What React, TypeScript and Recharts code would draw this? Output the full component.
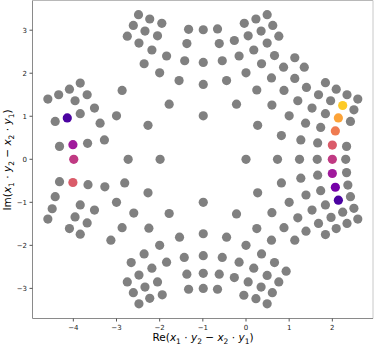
import { ScatterChart, Scatter, XAxis, YAxis, ReferenceLine, Cell } from "recharts";

// gray points, grouped by region (x, y)
const leftCluster = [
  [-3.84, 1.77], [-4.09, 1.63], [-4.34, 1.5], [-3.68, 1.5], [-4.59, 1.4], [-3.96, 1.36], [-3.51, 1.19],
  [-3.84, 1.06], [-4.42, 0.88], [-3.38, 0.84], [-3.28, 0.45], [-3.67, 0.37], [-4.32, 0.3],
  [-4.32, -0.52], [-3.66, -0.59], [-3.27, -0.64], [-4.42, -0.87], [-4.49, -1.15], [-3.84, -1.06],
  [-4.59, -1.39], [-3.96, -1.34], [-3.51, -1.18], [-3.68, -1.48], [-4.09, -1.61], [-3.84, -1.74],
];
const innerLeft = [
  [-2.87, 1.6], [-3.0, 1.01], [-2.27, 0.79], [-1.78, 1.28], [-1.55, 1.83], [-2.73, 0], [-1.99, 0],
  [-2.81, -0.55], [-2.27, -0.78], [-3.0, -1.0], [-2.6, -1.25], [-1.78, -1.26], [-2.87, -1.59],
  [-2.25, -1.6], [-3.13, -1.88], [-1.54, -1.81],
];
const upperLeft = [
  [-2.49, 3.36], [-2.23, 3.26], [-1.95, 3.16], [-2.61, 3.11], [-2.34, 2.98], [-2.75, 2.86], [-2.05, 2.87],
  [-1.33, 3.02], [-2.48, 2.7], [-1.37, 2.69], [-2.18, 2.54], [-1.84, 2.4], [-2.36, 2.22], [-1.42, 2.29],
  [-2.0, 2.01],
];
const lowerLeft = [
  [-2.0, -2.0], [-2.36, -2.2], [-2.66, -2.4], [-1.84, -2.39], [-1.43, -2.28], [-2.18, -2.53], [-2.48, -2.69],
  [-1.37, -2.67], [-2.75, -2.85], [-2.05, -2.85], [-2.34, -2.97], [-1.33, -3.02], [-2.61, -3.1],
  [-1.94, -3.15], [-2.23, -3.23], [-2.48, -3.36],
];
const upperMiddle = [
  [-0.99, 3.01], [-0.66, 3.03], [-0.62, 2.69], [-0.27, 2.76], [-0.99, 2.25], [-0.55, 2.29], [-0.16, 2.4],
  [-0.45, 1.83], [-0.99, 1.74], [-0.22, 1.28], [-0.99, 1.01], [0.27, 0.79], [0, 2.01], [0.25, 1.61],
  [0.6, 1.26], [-0.04, 3.16], [0.23, 3.26], [0.49, 3.36], [0.62, 3.11], [0.35, 2.98], [0.05, 2.87],
  [0.76, 2.86], [0.49, 2.7], [0.18, 2.54], [0.66, 2.41], [0.36, 2.22], [1.13, 2.36], [0.87, 2.14],
  [1.35, 2.14], [0.59, 1.89], [1.13, 1.88], [0.88, 1.6], [1.4, 1.67],
];
const lowerMiddle = [
  [-0.99, -1.0], [-0.22, -1.27], [0.6, -1.24], [0.27, -0.78], [0.25, -1.61], [0.88, -1.59], [1.39, -1.67],
  [-0.99, -1.73], [-0.45, -1.81], [1.13, -1.88], [0.59, -1.88], [0, -2.0], [0.36, -2.2], [-0.99, -2.24],
  [-0.55, -2.28], [-0.16, -2.39], [0.66, -2.4], [0.93, -2.6], [0.49, -2.7], [0.18, -2.53], [-0.27, -2.75],
  [0.05, -2.85], [0.76, -2.85], [0.35, -2.97], [0.61, -3.1], [-0.05, -3.16], [0.23, -3.24], [0.49, -3.36],
  [-0.99, -2.65], [-0.62, -2.67], [-0.99, -3.0], [-0.66, -3.02],
];
const rightCluster = [
  [1.84, 1.78], [2.09, 1.63], [2.34, 1.5], [2.59, 1.4], [1.68, 1.5], [1.96, 1.36], [1.2, 1.36], [2.5, 1.15],
  [1.53, 1.19], [1.84, 1.06], [2.42, 0.88], [1.0, 1.01], [1.38, 0.84], [1.73, 0.74], [0.82, 0.55],
  [1.27, 0.45], [1.66, 0.38], [2.33, 0.3],
  [0, 0], [0.73, 0], [1.24, 0], [1.65, 0], [2.31, 0],
  [2.33, -0.31], [1.66, -0.37], [1.27, -0.44], [0.82, -0.55], [2.36, -0.6], [1.73, -0.73], [1.39, -0.83],
  [2.42, -0.87], [1.0, -1.0], [1.84, -1.06], [2.5, -1.14], [1.53, -1.18], [2.24, -1.23], [1.2, -1.36],
  [1.97, -1.35], [2.59, -1.39], [1.68, -1.49], [2.34, -1.49], [2.09, -1.61], [1.84, -1.75],
];

// highlighted points and their colour level (0 = darkest, 7 = yellow)
const highlightX = [-4.14, -4.01, -3.99, -4.01, 2.24, 2.14, 2.07, 2.0, 2.0, 2.0, 2.07, 2.14];
const highlightY = [0.96, 0.34, 0.0, -0.54, 1.25, 0.96, 0.66, 0.33, 0.0, -0.33, -0.65, -0.95];
const highlightLevel = [0, 2, 3, 4, 7, 6, 5, 4, 3, 2, 1, 0];

const xTicks = [-4, -3, -2, -1, 0, 1, 2];
const yTicks = [-3, -2, -1, 0, 1, 2, 3];

const plasma = ["#4b03a1", "#7501a8", "#a01a9c", "#c03a83", "#da5b69", "#ef7b51", "#fca338", "#fdca26"];

const grayData = [
  ...leftCluster, ...innerLeft, ...upperLeft, ...lowerLeft,
  ...upperMiddle, ...lowerMiddle, ...rightCluster,
].map(([x, y]) => ({ x, y }));

const highlightData = highlightX.map((x, i) => ({ x, y: highlightY[i], level: highlightLevel[i] }));

const XMIN = -4.946, XMAX = 2.942, YMIN = -3.70, YMAX = 3.69;

const dot = (props) => <circle cx={props.cx} cy={props.cy} r={4.6} fill={props.fill} />;
const fmt = (v) => String(v).replace("-", "\u2212");

// Re(x1·y2 − x2·y1) with italic variables and subscripts
const mathText = (prefix) => [
  <tspan key="p">{prefix}(</tspan>,
  <tspan key="x1" fontStyle="italic">x</tspan>, <tspan key="s1" fontSize={7.5} dy={2.6}>1</tspan>,
  <tspan key="d1" dy={-2.6}> · </tspan>,
  <tspan key="y2" fontStyle="italic">y</tspan>, <tspan key="s2" fontSize={7.5} dy={2.6}>2</tspan>,
  <tspan key="m" dy={-2.6}> − </tspan>,
  <tspan key="x2" fontStyle="italic">x</tspan>, <tspan key="s3" fontSize={7.5} dy={2.6}>2</tspan>,
  <tspan key="d2" dy={-2.6}> · </tspan>,
  <tspan key="y1" fontStyle="italic">y</tspan>, <tspan key="s4" fontSize={7.5} dy={2.6}>1</tspan>,
  <tspan key="c" dy={-2.6}>)</tspan>,
];

const XLabel = () => (
  <text x={203} y={341} textAnchor="middle" fontFamily="DejaVu Sans" fontSize={10.5} fill="#000">
    {mathText("Re")}
  </text>
);

const YLabel = () => (
  <text x={11} y={160} transform="rotate(-90 11 160)" textAnchor="middle" fontFamily="DejaVu Sans" fontSize={10.5} fill="#000">
    {mathText("Im")}
  </text>
);

const tickStyle = { fontSize: 7, fontFamily: "DejaVu Sans", fill: "#222" };

export default function App() {
  return (
    <div style={{ position: "absolute", left: 0, top: 0, background: "#fff" }}>
      <ScatterChart width={374} height={347} margin={{ top: 0.5, right: 1, left: 0, bottom: 0 }}>
        <XAxis
          type="number"
          dataKey="x"
          domain={[XMIN, XMAX]}
          ticks={xTicks}
          allowDataOverflow
          height={28.5}
          tickSize={3}
          tickMargin={4}
          tickFormatter={fmt}
          tick={tickStyle}
          stroke="#8a8a8a"
          tickLine={{ stroke: "#555" }}
          label={{ content: () => <XLabel /> }}
        />
        <YAxis
          type="number"
          dataKey="y"
          domain={[YMIN, YMAX]}
          ticks={yTicks}
          allowDataOverflow
          width={32.5}
          tickSize={3}
          tickMargin={2.5}
          tickFormatter={fmt}
          tick={tickStyle}
          stroke="#8a8a8a"
          tickLine={{ stroke: "#555" }}
          label={{ content: () => <YLabel /> }}
        />
        <ReferenceLine y={YMAX} stroke="#b8b8b8" />
        <ReferenceLine x={XMAX} stroke="#c8c8c8" />
        <Scatter data={grayData} fill="#808080" shape={dot} isAnimationActive={false} />
        <Scatter data={highlightData} shape={dot} isAnimationActive={false}>
          {highlightData.map((d, i) => (
            <Cell key={i} fill={plasma[d.level]} />
          ))}
        </Scatter>
      </ScatterChart>
    </div>
  );
}
